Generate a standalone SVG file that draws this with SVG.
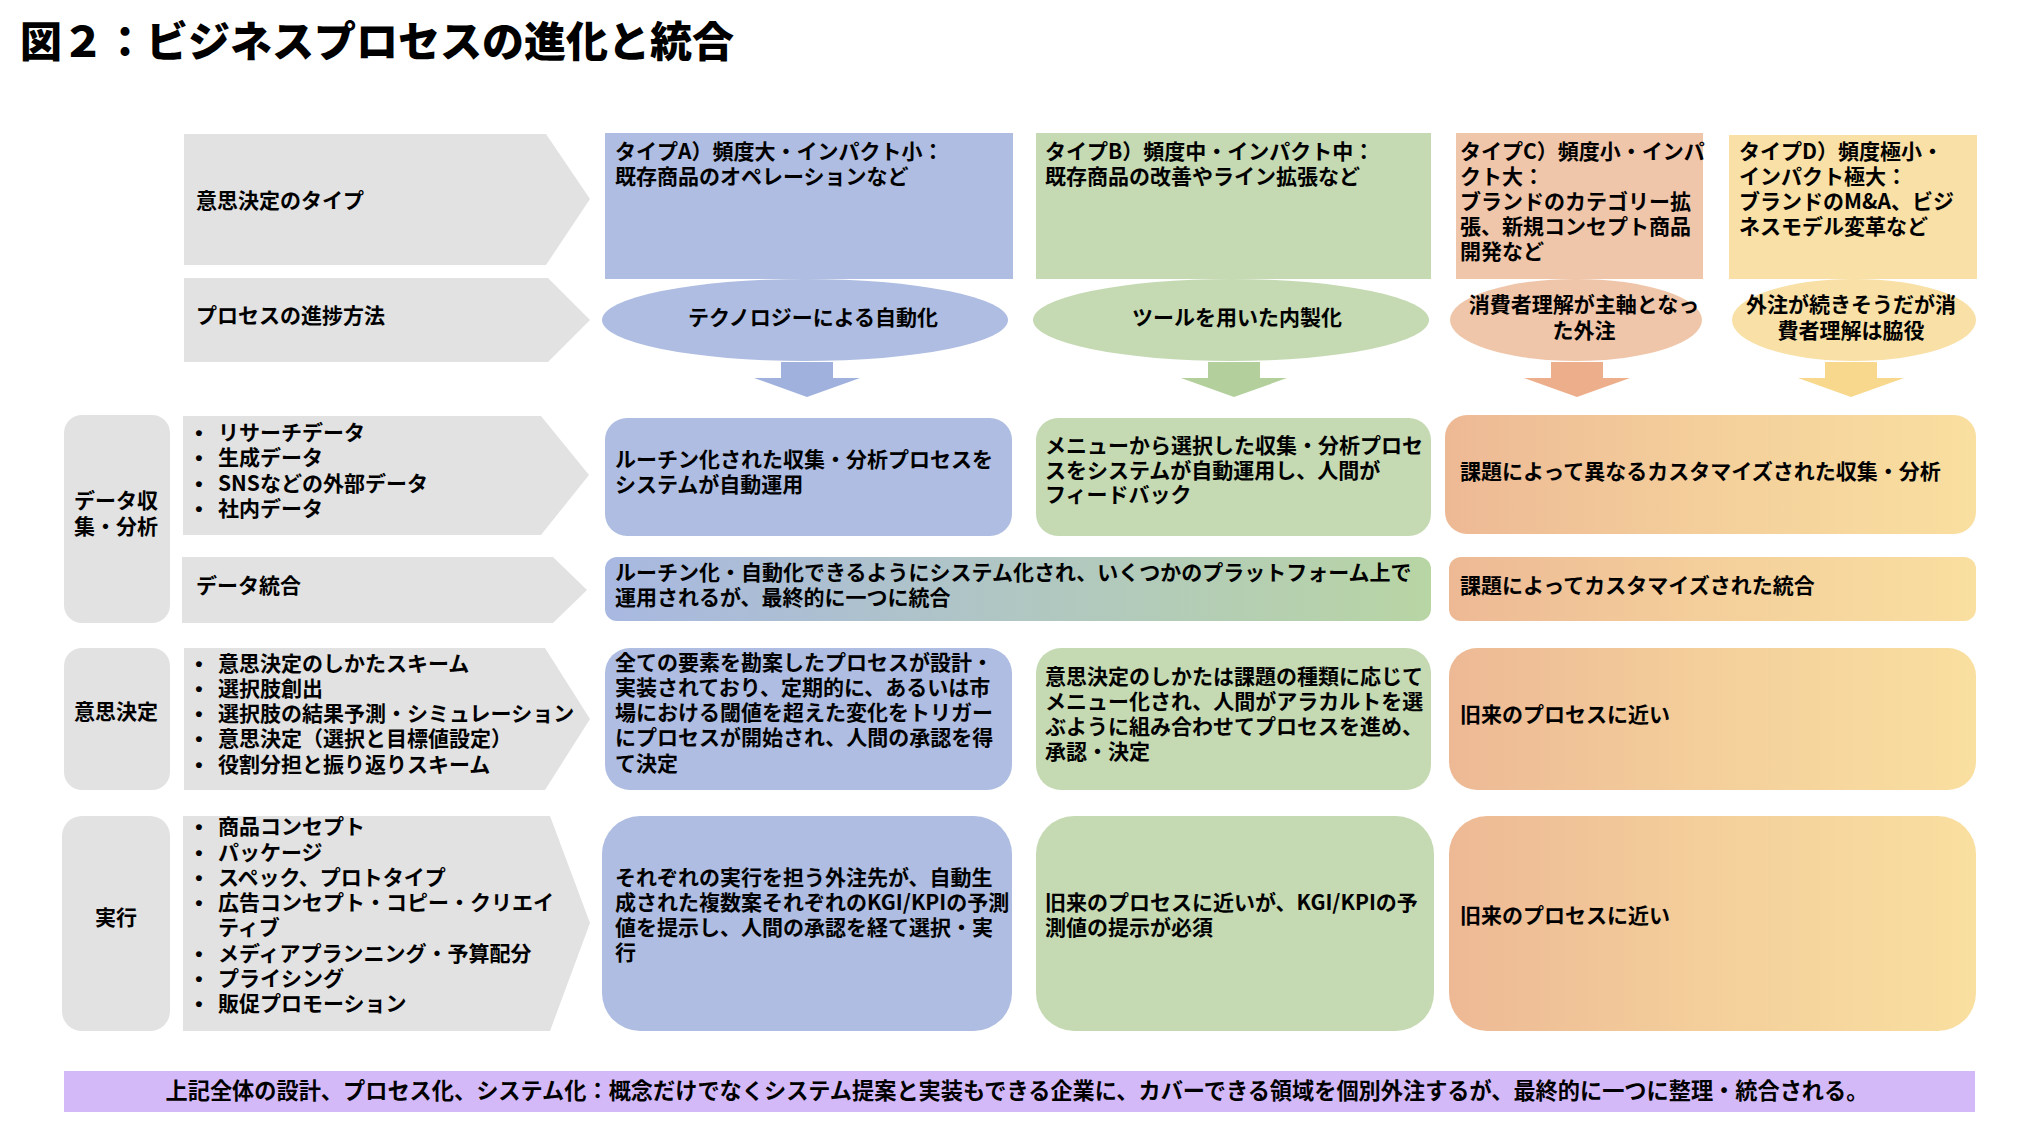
<svg xmlns="http://www.w3.org/2000/svg" width="2021" height="1129" viewBox="0 0 2021 1129">
<defs>
<linearGradient id="gAB" x1="0" y1="0" x2="1" y2="0">
<stop offset="0" stop-color="#A8B8E1"/><stop offset="1" stop-color="#B8D5A4"/>
</linearGradient>
<linearGradient id="gCD" x1="0" y1="0" x2="1" y2="0">
<stop offset="0" stop-color="#EDB995"/><stop offset="0.5" stop-color="#F4CF9B"/><stop offset="1" stop-color="#F9DFA0"/>
</linearGradient>
</defs>
<style>
text{font-family:"Noto Sans CJK JP","Noto Sans",sans-serif;font-weight:700;font-size:21px;fill:#000}
.title{font-size:42px;font-weight:900}
.banner{font-size:22.2px}
.mid{text-anchor:middle}
.bul{font-family:"Liberation Sans",sans-serif;text-anchor:middle}
.gray{fill:#E2E2E2}
.blue{fill:#AEBDE1}
.green{fill:#C5DAB3}
.peach{fill:#F0C6AA}
.yellow{fill:#F9E0A6}
.cd{fill:url(#gCD)}
.ab{fill:url(#gAB)}
</style>
<rect width="2021" height="1129" fill="#fff"/>
<text class="title" x="20" y="57">図２：ビジネスプロセスの進化と統合</text>

<g id="label-type">
<polygon class="gray" points="184,134 546,134 590,199 546,265 184,265"/>
<text x="196" y="208">意思決定のタイプ</text>
</g>
<g id="label-progress">
<polygon class="gray" points="184,278 548,278 590,320 548,362 184,362"/>
<text x="196" y="323">プロセスの進捗方法</text>
</g>

<g id="typeA">
<rect class="blue" x="605" y="133" width="408" height="146"/>
<text x="615" y="159">タイプA）頻度大・インパクト小：</text>
<text x="615" y="184">既存商品のオペレーションなど</text>
</g>
<g id="typeB">
<rect class="green" x="1036" y="133" width="395" height="146"/>
<text x="1045" y="159">タイプB）頻度中・インパクト中：</text>
<text x="1045" y="184">既存商品の改善やライン拡張など</text>
</g>
<g id="typeC">
<rect class="peach" x="1456" y="133" width="247" height="146"/>
<text x="1460" y="159">タイプC）頻度小・インパ</text>
<text x="1460" y="184">クト大：</text>
<text x="1460" y="209">ブランドのカテゴリー拡</text>
<text x="1460" y="234">張、新規コンセプト商品</text>
<text x="1460" y="259">開発など</text>
</g>
<g id="typeD">
<rect class="yellow" x="1729" y="135" width="248" height="144"/>
<text x="1739" y="159">タイプD）頻度極小・</text>
<text x="1739" y="184">インパクト極大：</text>
<text x="1739" y="209">ブランドのM&amp;A、ビジ</text>
<text x="1739" y="234">ネスモデル変革など</text>
</g>

<g id="methodA">
<ellipse class="blue" cx="805" cy="320" rx="203" ry="41"/>
<text class="mid" x="813" y="325">テクノロジーによる自動化</text>
</g>
<g id="methodB">
<ellipse class="green" cx="1231" cy="320" rx="198" ry="41"/>
<text class="mid" x="1237" y="325">ツールを用いた内製化</text>
</g>
<g id="methodC">
<ellipse class="peach" cx="1576" cy="320" rx="126" ry="41"/>
<text class="mid" x="1584" y="312">消費者理解が主軸となっ</text>
<text class="mid" x="1584" y="338">た外注</text>
</g>
<g id="methodD">
<ellipse class="yellow" cx="1854" cy="320" rx="122" ry="41"/>
<text class="mid" x="1851" y="312">外注が続きそうだが消</text>
<text class="mid" x="1851" y="338">費者理解は脇役</text>
</g>

<g id="connectors">
<polygon fill="#9FB1DC" points="781,362 833,362 833,378 860,378 807,397 754,378 781,378"/>
<polygon fill="#B2CF9C" points="1208,362 1260,362 1260,378 1287,378 1234,397 1181,378 1208,378"/>
<polygon fill="#EDAF8B" points="1551,362 1603,362 1603,378 1630,378 1577,397 1524,378 1551,378"/>
<polygon fill="#F8D88C" points="1825,362 1877,362 1877,378 1904,378 1851,397 1798,378 1825,378"/>
</g>

<g id="label-data">
<rect class="gray" x="64" y="415" width="106" height="208" rx="18"/>
<text class="mid" x="116" y="508">データ収</text>
<text class="mid" x="116" y="534">集・分析</text>
</g>
<g id="data-items">
<polygon class="gray" points="183,416 541,416 589,475 541,535 183,535"/>
<text class="bul" x="199" y="440">•</text><text x="218" y="440">リサーチデータ</text>
<text class="bul" x="199" y="465">•</text><text x="218" y="465">生成データ</text>
<text class="bul" x="199" y="491">•</text><text x="218" y="491">SNSなどの外部データ</text>
<text class="bul" x="199" y="516">•</text><text x="218" y="516">社内データ</text>
</g>
<g id="dataA">
<rect class="blue" x="605" y="418" width="407" height="118" rx="22"/>
<text x="615" y="467">ルーチン化された収集・分析プロセスを</text>
<text x="615" y="492">システムが自動運用</text>
</g>
<g id="dataB">
<rect class="green" x="1036" y="418" width="395" height="118" rx="22"/>
<text x="1045" y="453">メニューから選択した収集・分析プロセ</text>
<text x="1045" y="478">スをシステムが自動運用し、人間が</text>
<text x="1045" y="502">フィードバック</text>
</g>
<g id="dataCD">
<rect class="cd" x="1445" y="415" width="531" height="119" rx="22"/>
<text x="1460" y="479">課題によって異なるカスタマイズされた収集・分析</text>
</g>

<g id="integ-label">
<polygon class="gray" points="182,557 553,557 587,590 553,623 182,623"/>
<text x="196" y="593">データ統合</text>
</g>
<g id="integAB">
<rect class="ab" x="605" y="557" width="826" height="64" rx="12"/>
<text x="615" y="580">ルーチン化・自動化できるようにシステム化され、いくつかのプラットフォーム上で</text>
<text x="615" y="605">運用されるが、最終的に一つに統合</text>
</g>
<g id="integCD">
<rect class="cd" x="1449" y="557" width="527" height="64" rx="12"/>
<text x="1460" y="593">課題によってカスタマイズされた統合</text>
</g>

<g id="label-decision">
<rect class="gray" x="64" y="648" width="106" height="142" rx="18"/>
<text class="mid" x="116" y="719">意思決定</text>
</g>
<g id="decision-items">
<polygon class="gray" points="184,648 545,648 590,719 545,790 184,790"/>
<text class="bul" x="199" y="671">•</text><text x="218" y="671">意思決定のしかたスキーム</text>
<text class="bul" x="199" y="696">•</text><text x="218" y="696">選択肢創出</text>
<text class="bul" x="199" y="721">•</text><text x="218" y="721">選択肢の結果予測・シミュレーション</text>
<text class="bul" x="199" y="746">•</text><text x="218" y="746">意思決定（選択と目標値設定）</text>
<text class="bul" x="199" y="772">•</text><text x="218" y="772">役割分担と振り返りスキーム</text>
</g>
<g id="decisionA">
<rect class="blue" x="605" y="648" width="407" height="142" rx="25"/>
<text x="615" y="670">全ての要素を勘案したプロセスが設計・</text>
<text x="615" y="695">実装されており、定期的に、あるいは市</text>
<text x="615" y="720">場における閾値を超えた変化をトリガー</text>
<text x="615" y="745">にプロセスが開始され、人間の承認を得</text>
<text x="615" y="771">て決定</text>
</g>
<g id="decisionB">
<rect class="green" x="1036" y="648" width="395" height="142" rx="25"/>
<text x="1045" y="684">意思決定のしかたは課題の種類に応じて</text>
<text x="1045" y="709">メニュー化され、人間がアラカルトを選</text>
<text x="1045" y="734">ぶように組み合わせてプロセスを進め、</text>
<text x="1045" y="759">承認・決定</text>
</g>
<g id="decisionCD">
<rect class="cd" x="1449" y="648" width="527" height="142" rx="28"/>
<text x="1460" y="722">旧来のプロセスに近い</text>
</g>

<g id="label-exec">
<rect class="gray" x="62" y="816" width="108" height="215" rx="20"/>
<text class="mid" x="116" y="925">実行</text>
</g>
<g id="exec-items">
<polygon class="gray" points="183,816 550,816 590,923 550,1031 183,1031"/>
<text class="bul" x="199" y="834">•</text><text x="218" y="834">商品コンセプト</text>
<text class="bul" x="199" y="860">•</text><text x="218" y="860">パッケージ</text>
<text class="bul" x="199" y="885">•</text><text x="218" y="885">スペック、プロトタイプ</text>
<text class="bul" x="199" y="910">•</text><text x="218" y="910">広告コンセプト・コピー・クリエイ</text>
<text x="218" y="935">ティブ</text>
<text class="bul" x="199" y="961">•</text><text x="218" y="961">メディアプランニング・予算配分</text>
<text class="bul" x="199" y="986">•</text><text x="218" y="986">プライシング</text>
<text class="bul" x="199" y="1011">•</text><text x="218" y="1011">販促プロモーション</text>
</g>
<g id="execA">
<rect class="blue" x="602" y="816" width="410" height="215" rx="38"/>
<text x="615" y="885">それぞれの実行を担う外注先が、自動生</text>
<text x="615" y="910">成された複数案それぞれのKGI/KPIの予測</text>
<text x="615" y="935">値を提示し、人間の承認を経て選択・実</text>
<text x="615" y="960">行</text>
</g>
<g id="execB">
<rect class="green" x="1036" y="816" width="398" height="215" rx="38"/>
<text x="1045" y="910">旧来のプロセスに近いが、KGI/KPIの予</text>
<text x="1045" y="935">測値の提示が必須</text>
</g>
<g id="execCD">
<rect class="cd" x="1449" y="816" width="527" height="215" rx="38"/>
<text x="1460" y="923">旧来のプロセスに近い</text>
</g>

<g id="banner">
<rect fill="#D4B9F8" x="64" y="1071" width="1911" height="41"/>
<text class="banner mid" x="1017" y="1099">上記全体の設計、プロセス化、システム化：概念だけでなくシステム提案と実装もできる企業に、カバーできる領域を個別外注するが、最終的に一つに整理・統合される。</text>
</g>
</svg>
